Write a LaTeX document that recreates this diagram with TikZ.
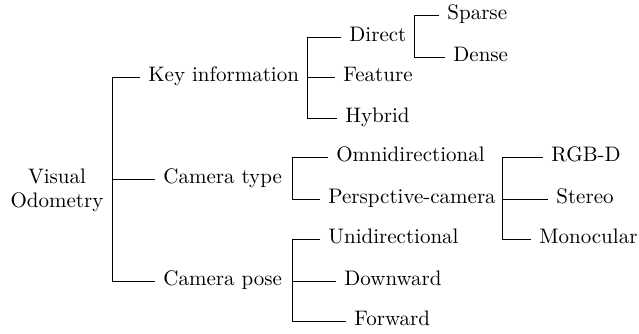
\documentclass[tikz,border=0pt]{standalone}
\begin{document}
\begin{tikzpicture}[x=0.5pt,y=-0.5pt,
  every node/.style={font=\fontsize{10.5}{12}\selectfont},
  leaf/.style={anchor=mid west, inner xsep=4pt, inner ysep=0pt},
  conn/.style={line width=0.5pt}]
\useasboundingbox (0,0) rectangle (639,333);
% root
\node[align=center, inner sep=0pt] (vo) at (57,190) {Visual\\Odometry};
\coordinate (s1) at (112,0);
\node[leaf] (ki) at (140,77) {Key information};
\node[leaf] (ct) at (155,179) {Camera type};
\node[leaf] (cp) at (155,281) {Camera pose};
\draw[conn] (ki.mid west) -| (s1 |- cp.mid west) -- (cp.mid west);
\draw[conn] (s1 |- ct.mid west) -- (ct.mid west);
% key information
\coordinate (s2) at (307,0);
\node[leaf] (di) at (341,37) {Direct};
\node[leaf] (fe) at (335,77) {Feature};
\node[leaf] (hy) at (337,118) {Hybrid};
\draw[conn] (di.mid west) -| (s2 |- hy.mid west) -- (hy.mid west);
\draw[conn] (s2 |- fe.mid west) -- (fe.mid west);
% direct
\coordinate (s3) at (414,0);
\node[leaf] (sp) at (439,15) {Sparse};
\node[leaf] (de) at (445,57) {Dense};
\draw[conn] (sp.mid west) -| (s3 |- de.mid west) -- (de.mid west);
% camera type
\coordinate (s4) at (292,0);
\node[leaf] (om) at (328,157) {Omnidirectional};
\node[leaf] (pc) at (320,199) {Perspctive-camera};
\draw[conn] (om.mid west) -| (s4 |- pc.mid west) -- (pc.mid west);
% perspective camera
\coordinate (s5) at (502,0);
\node[leaf] (rg) at (543,157) {RGB-D};
\node[leaf] (st) at (548,199) {Stereo};
\node[leaf] (mo) at (531,239) {Monocular};
\draw[conn] (rg.mid west) -| (s5 |- mo.mid west) -- (mo.mid west);
\draw[conn] (s5 |- st.mid west) -- (st.mid west);
% camera pose
\coordinate (s6) at (292,0);
\node[leaf] (un) at (320,239) {Unidirectional};
\node[leaf] (dw) at (336,281) {Downward};
\node[leaf] (fw) at (346,321) {Forward};
\draw[conn] (un.mid west) -| (s6 |- fw.mid west) -- (fw.mid west);
\draw[conn] (s6 |- dw.mid west) -- (dw.mid west);
\end{tikzpicture}
\end{document}
